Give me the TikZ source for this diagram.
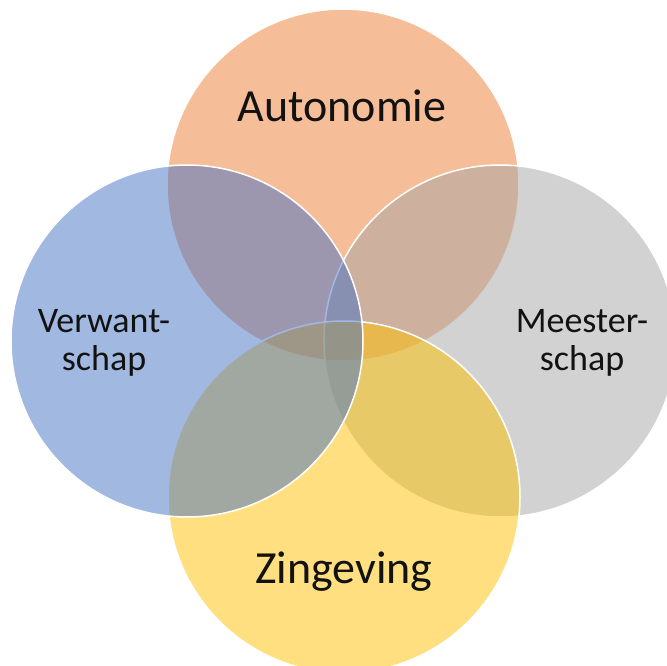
\documentclass[tikz,border=0pt]{standalone}
\usepackage{fontspec}
\setmainfont{Carlito}
\definecolor{cOrange}{HTML}{ED7D31}
\definecolor{cGray}{HTML}{A5A5A5}
\definecolor{cGold}{HTML}{FFC000}
\definecolor{cBlue}{HTML}{4472C4}
\definecolor{cText}{HTML}{121212}
\begin{document}
\begin{tikzpicture}[x=1pt,y=-1pt,
  venn/.style={circle,minimum size=352pt,inner sep=0pt,draw=white,line width=1.5pt,fill opacity=0.5},
  biglabel/.style={font=\fontsize{46}{50}\selectfont,text=cText,anchor=base,inner sep=0pt},
  smalllabel/.style={font=\fontsize{36}{38}\selectfont,text=cText,anchor=base,inner sep=0pt}]
\useasboundingbox (0,0) rectangle (667,666);
\clip (0,0) rectangle (667,666);
\node[venn,fill=cOrange] (top) at (343,185) {};
\node[venn,fill=cGray] (right) at (500,341) {};
\node[venn,fill=cGold] (bottom) at (344,497) {};
\node[venn,fill=cBlue] (left) at (187,341) {};
\node[biglabel] (lA) at (342,122) {Autonomie};
\node[biglabel] (lZ) at (344,583) {Zingeving};
\node[smalllabel] (lV1) at (104,332) {Verwant-};
\node[smalllabel] (lV2) at (104,370) {schap};
\node[smalllabel] (lM1) at (582,332) {Meester-};
\node[smalllabel] (lM2) at (582,370) {schap};
\end{tikzpicture}
\end{document}
